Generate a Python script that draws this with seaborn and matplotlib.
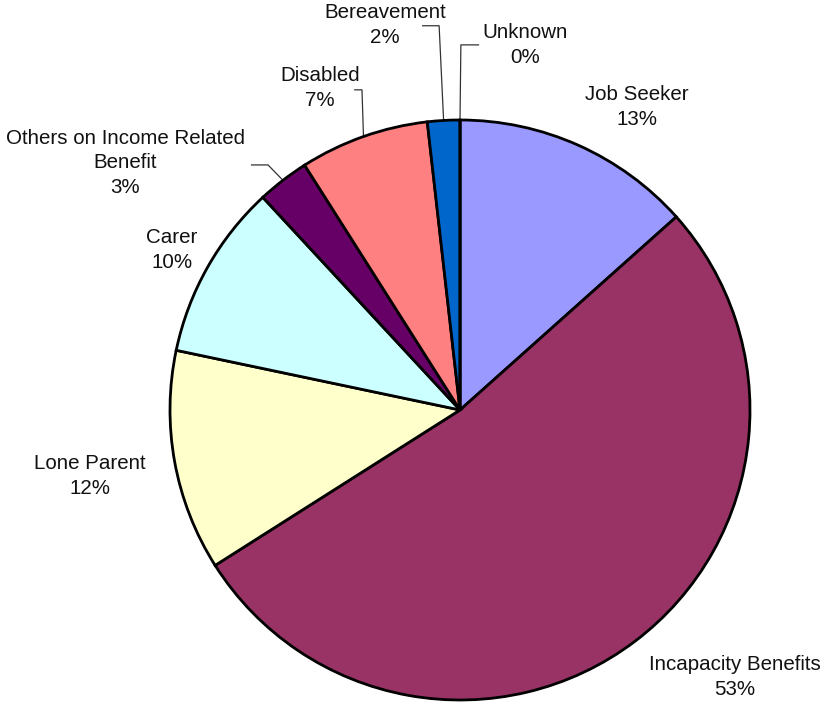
import numpy as np
import matplotlib
matplotlib.use("Agg")
import matplotlib.pyplot as plt
import seaborn as sns

# Benefit claimant groups, share of total (%)
categories = ["Job Seeker", "Incapacity Benefits", "Lone Parent", "Carer",
              "Others on Income Related\nBenefit", "Disabled", "Bereavement", "Unknown"]
shares = [13.4, 52.6, 12.3, 9.8, 2.9, 7.2, 1.8, 0.0]
colors = ["#9999FF", "#993366", "#FFFFCC", "#CCFFFF",
          "#660066", "#FF8080", "#0066CC", "#CCCCFF"]

# Label placement (data units, pie radius = 1) and optional leader elbows
label_pos = [(0.61, 1.045), (0.948, -0.921), (-1.276, -0.228), (-0.993, 0.552),
             (-1.155, 0.852), (-0.483, 1.11), (-0.259, 1.328), (0.224, 1.259)]
leaders = {
    4: [(-0.721, 0.845), (-0.662, 0.845)],
    5: [(-0.365, 1.104), (-0.338, 1.104)],
    6: [(-0.131, 1.325), (-0.072, 1.325)],
    7: [(0.066, 1.259), (0.003, 1.259)],
}

sns.set_style("white")
plt.rcParams["font.family"] = ["Liberation Sans", "DejaVu Sans"]

fig = plt.figure(figsize=(8.23, 7.04), dpi=100)
ax = fig.add_axes([0, 0, 1, 1])

wedges, _ = ax.pie(shares, colors=colors, startangle=90, counterclock=False,
                   radius=1.0, center=(0, 0),
                   wedgeprops=dict(edgecolor="black", linewidth=2))

total = sum(shares)
for i, (name, v) in enumerate(zip(categories, shares)):
    x, y = label_pos[i]
    ax.text(x, y, f"{name}\n{v / total * 100:.0f}%", ha="center", va="center",
            fontsize=14.8, linespacing=1.36, color="#111111")
    if i in leaders:
        w = wedges[i]
        mid = np.deg2rad((w.theta1 + w.theta2) / 2)
        edge = (np.cos(mid), np.sin(mid))
        (x0, y0), (x1, y1) = leaders[i]
        ax.plot([x0, x1, edge[0]], [y0, y1, edge[1]], color="#333333",
                linewidth=0.9, solid_capstyle="butt", zorder=0)

ax.set_xlim(-460 / 290, (823 - 460) / 290)
ax.set_ylim(-(704 - 410) / 290, 410 / 290)
ax.set_aspect("equal")
ax.axis("off")

fig.savefig("out.png", dpi=100, facecolor="white")
